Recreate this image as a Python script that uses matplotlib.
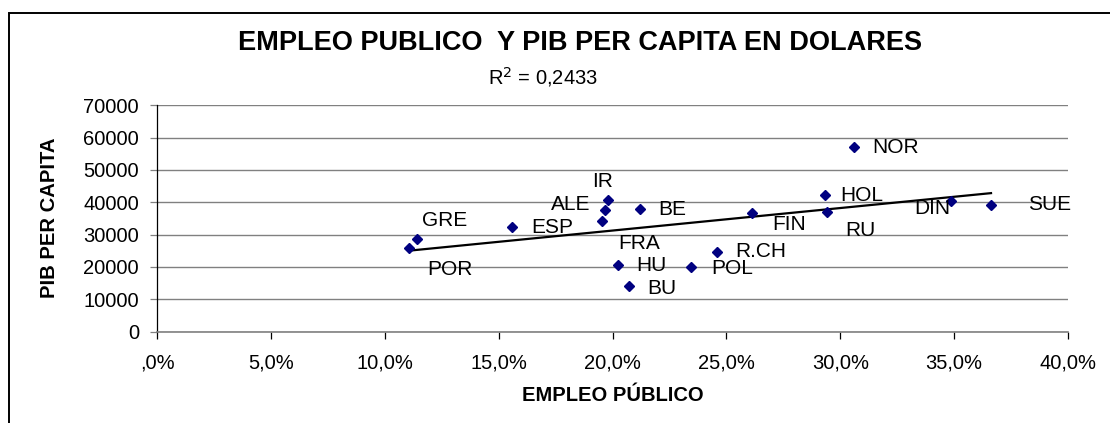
import matplotlib
matplotlib.use("Agg")
import matplotlib.pyplot as plt
import matplotlib.ticker as mticker
from matplotlib.patches import Rectangle
import numpy as np

# ── datos ────────────────────────────────────────────────────────
paises = ["POR", "GRE", "ESP", "FRA", "ALE", "IR", "BE", "HU", "BU",
          "POL", "R.CH", "FIN", "HOL", "RU", "NOR", "DIN", "SUE"]
empleo = [0.1108, 0.1143, 0.1560, 0.1952, 0.1969, 0.1979, 0.2121, 0.2024, 0.2071,
          0.2345, 0.2457, 0.2611, 0.2933, 0.2940, 0.3060, 0.3485, 0.3662]
pib = [25760, 28640, 32260, 34300, 37520, 40710, 37930, 20490, 13990,
       20060, 24710, 36590, 42170, 36900, 57210, 40310, 39260]
r2_texto = "0,2433"

# desplazamiento de cada etiqueta respecto a su punto (en puntos)
offsets = {
    "POR": (29.5, -15), "GRE": (20, 13), "ESP": (29, 0), "FRA": (27, -16.5),
    "ALE": (-25, 4.5), "IR": (-4, 13.5), "BE": (23, -0.5), "HU": (24, 0),
    "BU": (24, -1.5), "POL": (29.5, -1.5), "R.CH": (32, 0), "FIN": (27, -8),
    "HOL": (26.5, 0), "RU": (24, -13), "NOR": (30, -0.5), "DIN": (-13.5, -5),
    "SUE": (42, 0),
}

NAVY = "#000080"
GRID = "#808080"

plt.rcParams["font.family"] = ["Liberation Sans", "DejaVu Sans"]

W, H = 1110, 423
fig = plt.figure(figsize=(W / 100, H / 100), dpi=100)
fig.patch.set_facecolor("white")

# marco exterior (cortado por la derecha y abajo, como en el original)
fig.add_artist(Rectangle((9 / W, -0.5), 2, 1.5 - 13 / H, transform=fig.transFigure,
                         fill=False, edgecolor="black", linewidth=1.4))

ax = fig.add_axes([157 / W, 1 - 331.5 / H, (1068 - 157) / W, (331.5 - 105.3) / H])

x = np.array(empleo)
y = np.array(pib)

ax.plot(x, y, "D", color=NAVY, markersize=5.3, zorder=4)

# línea de tendencia lineal
m, b = np.polyfit(x, y, 1)
xs = np.array([x.min(), x.max()])
ax.plot(xs, m * xs + b, color="black", linewidth=1.6, zorder=3)

for nombre, xi, yi in zip(paises, x, y):
    dx, dy = offsets[nombre]
    ax.annotate(nombre, (xi, yi), xytext=(dx, dy), textcoords="offset points",
                ha="center", va="center", fontsize=15, zorder=5)

ax.set_xlim(0, 0.40)
ax.set_ylim(0, 70000)
ax.xaxis.set_major_locator(mticker.MultipleLocator(0.05))
ax.yaxis.set_major_locator(mticker.MultipleLocator(10000))


def fmt_pct(v, pos):
    s = f"{v * 100:.1f}".replace(".", ",")
    if s.startswith("0,"):
        s = s[1:]
    return s + "%"


ax.xaxis.set_major_formatter(mticker.FuncFormatter(fmt_pct))
ax.yaxis.set_major_formatter(mticker.FuncFormatter(lambda v, p: f"{v:.0f}"))

ax.grid(axis="y", color=GRID, linewidth=1.0, zorder=0)
ax.set_axisbelow(True)
for s in ["top", "right"]:
    ax.spines[s].set_visible(False)
ax.spines["left"].set_color("black")
ax.spines["left"].set_linewidth(0.9)
ax.spines["bottom"].set_color(GRID)
ax.spines["bottom"].set_linewidth(1.2)

ax.tick_params(axis="y", direction="out", length=5, width=0.9, color=GRID,
               labelsize=14.5, pad=8)
ax.tick_params(axis="x", direction="out", length=5, width=0.9, color="black",
               labelsize=14.5, pad=11)

fig.text(580 / W, 1 - 43 / H, "EMPLEO PUBLICO  Y PIB PER CAPITA EN DOLARES",
         ha="center", va="center", fontsize=19.5, fontweight="bold")
fig.text(543 / W, 1 - 77 / H, "R$^2$ = " + r2_texto, ha="center", va="center",
         fontsize=14.5)
fig.text(612.5 / W, 1 - 395 / H, "EMPLEO PÚBLICO", ha="center", va="center",
         fontsize=14.5, fontweight="bold")
fig.text(50 / W, 1 - 218 / H, "PIB PER CAPITA", ha="center", va="center",
         rotation=90, fontsize=14.6, fontweight="bold")

fig.savefig("out.png", dpi=100, facecolor="white")
